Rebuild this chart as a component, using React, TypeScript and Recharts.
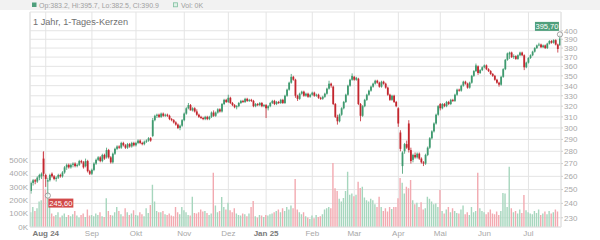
import React from 'react';
import { ComposedChart, Bar, XAxis, YAxis, CartesianGrid, ReferenceDot, Cell } from 'recharts';

// first trading day shown, and the Xetra holidays in the range
const startDate = '2024-07-23';
const holidays = ['2024-12-24', '2024-12-25', '2024-12-26', '2024-12-31', '2025-01-01', '2025-04-18', '2025-04-21', '2025-05-01'];

const monthLabels = ['Aug 24', 'Sep', 'Okt', 'Nov', 'Dez', 'Jan 25', 'Feb', 'Mar', 'Apr', 'Mai', 'Jun', 'Jul'];
const boldLabels = ['Aug 24', 'Jan 25'];

const priceTicks = [230, 240, 250, 260, 270, 280, 290, 300, 310, 320, 330, 340, 350, 360, 370, 380, 390, 400];
const volumeTicks = [0, 100000, 200000, 300000, 400000, 500000];

const opens = [
  249, 255, 257, 256, 259, 260, 274, 261, 256, 257,
  262, 260, 258, 259, 261, 260, 263, 267, 269, 267,
  269, 270, 268, 269, 272, 271, 268, 272, 264, 262,
  265, 270, 273, 275, 272, 277, 275, 281, 275, 271,
  278, 282, 284, 283, 287, 285, 283, 286, 284, 287,
  285, 287, 289, 287, 286, 288, 289, 291, 293, 307,
  311, 312, 310, 313, 311, 312, 311, 308, 307, 305,
  303, 300, 302, 307, 313, 318, 321, 316, 318, 315,
  312, 310, 309, 308, 310, 308, 310, 314, 311, 314,
  317, 315, 322, 326, 324, 328, 323, 321, 319, 320,
  323, 325, 324, 327, 325, 326, 325, 320, 322, 321,
  323, 320, 321, 318, 320, 323, 325, 322, 324, 323,
  326, 323, 330, 336, 343, 349, 346, 330, 327, 332,
  334, 330, 332, 329, 331, 333, 330, 331, 328, 327,
  329, 332, 337, 342, 339, 322, 310, 306, 312, 318,
  324, 331, 340, 346, 349, 346, 347, 322, 311, 320,
  326, 331, 335, 339, 342, 345, 343, 339, 344, 342,
  338, 331, 326, 330, 324, 318, 296, 268, 280, 286,
  304, 281, 273, 277, 275, 278, 274, 271, 270, 277,
  283, 291, 297, 304, 312, 322, 318, 322, 320, 324,
  322, 326, 325, 331, 336, 335, 340, 344, 342, 338,
  343, 350, 355, 360, 353, 356, 359, 361, 357, 355,
  352, 350, 346, 343, 341, 349, 357, 367, 373, 375,
  370, 371, 368, 372, 375, 372, 359, 364, 369, 372,
  376, 380, 383, 384, 381, 383, 380, 385, 388, 386,
  389, 384, 383.2,
];

const highs = [
  256, 258, 258, 260, 262, 263, 280, 262, 259, 262,
  263, 261, 260, 262, 262, 264, 268, 270, 270, 270,
  271, 271, 270, 273, 273, 272, 274, 273, 265, 266,
  271, 274, 276, 276, 278, 278, 283, 282, 276, 279,
  283, 285, 285, 288, 288, 286, 287, 287, 288, 288,
  288, 290, 290, 288, 289, 290, 292, 292, 309, 312,
  313, 313, 314, 314, 313, 313, 312, 309, 308, 306,
  304, 303, 308, 314, 319, 323, 322, 319, 319, 317,
  313, 311, 310, 311, 311, 311, 315, 316, 315, 318,
  318, 323, 327, 327, 331, 329, 324, 322, 321, 324,
  326, 326, 328, 328, 327, 327, 326, 323, 323, 324,
  324, 322, 322, 321, 324, 326, 326, 325, 325, 327,
  327, 331, 337, 344, 352, 350, 347, 331, 333, 335,
  335, 333, 333, 332, 334, 334, 332, 332, 329, 330,
  333, 338, 345, 343, 340, 323, 312, 313, 319, 325,
  332, 341, 347, 352.6, 350, 349, 348, 323, 321, 327,
  332, 336, 340, 343, 346, 346, 344, 345, 345, 343,
  339, 332, 331, 331, 325, 319, 298, 280, 287, 289,
  307, 283, 278, 279, 279, 279, 275, 272, 278, 284,
  292, 298, 305, 313, 321, 323, 323, 323, 325, 325,
  327, 327, 332, 337, 337, 341, 345, 345, 343, 344,
  351, 356, 363, 361, 357, 360, 362, 362, 358, 356,
  353, 351, 347, 344, 350, 358, 368, 375, 376, 376,
  373, 372, 373, 376, 376, 373, 365, 370, 373, 377,
  381, 384, 386, 385, 384, 384, 386, 389, 389, 390,
  390, 385, 395.7,
];

const lows = [
  247, 253, 254, 255, 257, 258, 260, 252, 245.6, 256,
  259, 257, 256, 258, 259, 259, 262, 265, 266, 266,
  267, 267, 267, 268, 270, 266, 267, 263, 261, 261,
  264, 269, 272, 271, 271, 273, 274, 274, 270, 270,
  277, 281, 282, 282, 284, 282, 282, 283, 283, 284,
  284, 286, 286, 285, 285, 287, 288, 288, 292, 306,
  309, 309, 309, 310, 310, 310, 307, 306, 304, 302,
  299, 298, 301, 306, 312, 317, 316, 315, 314, 311,
  309, 308, 307, 307, 307, 307, 309, 310, 310, 313,
  314, 314, 321, 323, 323, 322, 320, 318, 317, 319,
  322, 323, 323, 324, 324, 324, 319, 319, 320, 320,
  319, 319, 309, 316, 319, 322, 321, 321, 322, 322,
  322, 322, 329, 335, 342, 345, 328, 325, 326, 331,
  329, 329, 328, 328, 330, 329, 329, 327, 326, 326,
  328, 331, 336, 338, 321, 309, 303, 305, 311, 317,
  323, 330, 339, 345, 345, 345, 321, 306, 310, 319,
  325, 330, 334, 338, 341, 342, 338, 338, 341, 337,
  330, 325, 325, 323, 319, 301, 280, 262, 278, 282,
  279, 270, 271, 274, 274, 273, 270, 268, 269, 276,
  282, 290, 296, 303, 311, 316, 317, 319, 319, 321,
  321, 324, 324, 330, 334, 334, 339, 341, 337, 337,
  342, 349, 354, 351, 352, 355, 358, 356, 354, 351,
  349, 345, 342, 339, 340, 348, 356, 366, 368, 369,
  368, 367, 367, 371, 371, 356, 358, 363, 368, 371,
  375, 379, 382, 380, 380, 379, 379, 384, 385, 385,
  383, 375, 382.5,
];

const closes = [
  255, 257, 256, 259, 261, 262, 262, 258, 257, 261,
  260, 258, 259, 261, 260, 263, 267, 269, 267, 269,
  270, 268, 269, 272, 271, 267, 272, 264, 262, 265,
  270, 273, 275, 272, 277, 274, 281, 275, 271, 278,
  282, 284, 283, 287, 285, 283, 286, 284, 287, 285,
  287, 289, 287, 286, 288, 289, 291, 289, 307, 311,
  312, 310, 313, 311, 312, 311, 308, 307, 305, 303,
  300, 302, 307, 313, 318, 321, 316, 318, 315, 312,
  310, 309, 308, 310, 308, 310, 314, 311, 314, 317,
  315, 322, 326, 324, 328, 323, 321, 319, 320, 323,
  325, 324, 327, 325, 326, 325, 320, 322, 321, 323,
  320, 321, 318, 320, 323, 325, 322, 324, 323, 326,
  323, 330, 336, 343, 349, 346, 330, 327, 332, 334,
  330, 332, 329, 331, 333, 330, 331, 328, 327, 329,
  332, 337, 342, 340, 322, 310, 306, 312, 318, 324,
  331, 340, 346, 350, 346, 348, 322, 311, 320, 326,
  331, 335, 339, 342, 345, 343, 339, 344, 342, 338,
  331, 326, 330, 324, 320, 304, 282, 279, 286, 283,
  281, 272, 277, 275, 278, 274, 271, 270, 277, 283,
  291, 297, 304, 312, 320, 318, 322, 320, 324, 322,
  326, 325, 331, 336, 335, 340, 344, 342, 338, 343,
  350, 355, 361, 353, 356, 359, 361, 357, 355, 352,
  350, 346, 343, 341, 349, 357, 367, 374, 375, 370,
  371, 368, 372, 375, 372, 359, 364, 369, 372, 376,
  380, 383, 384, 381, 383, 380, 385, 388, 386, 389,
  384, 379, 390.9,
];

// in thousand shares
const volumesK = [
  110, 150, 120, 140, 190, 200, 560, 280, 250, 150,
  100, 80, 90, 110, 70, 85, 100, 75, 90, 80,
  95, 120, 85, 70, 90, 100, 75, 130, 85, 90,
  80, 100, 90, 110, 80, 75, 215, 120, 90, 85,
  110, 150, 120, 95, 80, 140, 110, 90, 100, 125,
  90, 85, 110, 95, 80, 140, 105, 165, 315, 190,
  120, 110, 110, 120, 95, 90, 100, 85, 80, 150,
  110, 95, 150, 125, 110, 90, 85, 226, 105, 100,
  110, 130, 115, 120, 105, 90, 100, 405, 160, 110,
  120, 224, 150, 130, 180, 125, 110, 140, 100, 90,
  85, 100, 95, 80, 100, 150, 194, 80, 70, 90,
  85, 75, 90, 85, 95, 100, 110, 120, 130, 110,
  140, 120, 150, 130, 160, 140, 358, 130, 110, 95,
  110, 80, 70, 60, 85, 65, 90, 75, 80, 95,
  130, 140, 150, 140, 477, 290, 268, 210, 190, 216,
  268, 413, 240, 250, 230, 240, 338, 291, 300, 220,
  200, 190, 210, 200, 170, 150, 226, 150, 120, 140,
  115, 150, 135, 150, 150, 215, 365, 330, 250, 300,
  290, 350, 200, 170, 180, 150, 185, 130, 140, 226,
  210, 190, 170, 175, 150, 276, 120, 100, 130, 150,
  110, 140, 120, 105, 100, 130, 160, 95, 110, 90,
  150, 110, 120, 405, 140, 120, 110, 95, 110, 130,
  100, 95, 115, 90, 120, 253, 250, 150, 450, 140,
  110, 120, 100, 130, 105, 239, 125, 110, 100, 95,
  120, 105, 130, 90, 100, 115, 95, 120, 100, 110,
  130, 115, 0,
];

const GREEN = '#3f9a6f';
const RED = '#c3262e';
const VOL_GREEN = '#a6d6bd';
const VOL_RED = '#f2a9b0';

// trading days: weekdays from startDate without the holidays
const tradingDays: string[] = [];
{
  const d = new Date(startDate + 'T00:00:00Z');
  while (tradingDays.length < closes.length) {
    const iso = d.toISOString().slice(0, 10);
    const wd = d.getUTCDay();
    if (wd !== 0 && wd !== 6 && !holidays.includes(iso)) tradingDays.push(iso);
    d.setUTCDate(d.getUTCDate() + 1);
  }
}

const data = tradingDays.map((date, i) => ({
  date,
  open: opens[i],
  high: highs[i],
  low: lows[i],
  close: closes[i],
  range: [lows[i], highs[i]],
  volume: volumesK[i] * 1000,
}));

// first trading day of each new month gets a tick
const monthTicks = tradingDays.filter((d, i) => i > 0 && d.slice(5, 7) !== tradingDays[i - 1].slice(5, 7));
const tickLabel: Record<string, string> = {};
monthTicks.forEach((d, i) => { tickLabel[d] = monthLabels[i]; });

const iMax = highs.indexOf(Math.max(...highs));
const iMin = lows.indexOf(Math.min(...lows));
const last = data.length - 1;

const deNum = (v: number) => v.toFixed(2).replace('.', ',');

const Candle = (props: any) => {
  const { x, y, width, height, payload } = props;
  if (!payload) return null;
  const top = Math.min(y, y + height);
  const h = Math.abs(height);
  const lh = Math.log(payload.high);
  const ll = Math.log(payload.low);
  const py = (v: number) => (lh === ll ? top : top + ((lh - Math.log(v)) / (lh - ll)) * h);
  const up = payload.close >= payload.open;
  const color = up ? GREEN : RED;
  const cx = x + width / 2;
  const yo = py(payload.open);
  const yc = py(payload.close);
  const bodyTop = Math.min(yo, yc);
  const bodyH = Math.max(Math.abs(yo - yc), 0.8);
  return (
    <g>
      <line x1={cx} x2={cx} y1={top} y2={top + h} stroke={color} strokeWidth={0.8} />
      <rect x={cx - 0.9} y={bodyTop} width={1.8} height={bodyH} fill={color} />
    </g>
  );
};

const MonthTick = ({ x, y, payload }: any) => {
  const label = tickLabel[payload.value] || '';
  const bold = boldLabels.includes(label);
  return (
    <text x={x} y={y + 9} textAnchor="middle" fontSize={8} fontWeight={bold ? 700 : 400} fill={bold ? '#7a7a7a' : '#a8a8a8'}>
      {label}
    </text>
  );
};

const MaxMarker = ({ cx, cy }: any) => (
  <g>
    <rect x={cx - 25} y={cy - 12.5} width={24} height={9} fill="#4f9f7c" />
    <text x={cx - 13} y={cy - 5.2} textAnchor="middle" fontSize={7.5} fill="#fff">{deNum(highs[iMax])}</text>
    <circle cx={cx} cy={cy} r={2.6} fill="#fff" fillOpacity={0.6} stroke="#8a8a8a" strokeWidth={0.8} />
  </g>
);

const MinMarker = ({ cx, cy }: any) => (
  <g>
    <rect x={cx + 0.5} y={cy + 3} width={25} height={9} fill="#d24a4a" />
    <text x={cx + 13} y={cy + 10.3} textAnchor="middle" fontSize={7.5} fill="#fff">{deNum(lows[iMin])}</text>
    <circle cx={cx} cy={cy} r={2.6} fill="#fff" fillOpacity={0.6} stroke="#8a8a8a" strokeWidth={0.8} />
  </g>
);

export default function App() {
  const lastRow = data[last];
  const legend = `Op:${lastRow.open.toFixed(1)}, Hi:${lastRow.high.toFixed(1)}, Lo:${lastRow.low.toFixed(1)}, Cl:${lastRow.close.toFixed(1)}`;
  return (
    <div style={{ position: 'absolute', left: 0, top: 0, width: 600, height: 240, background: '#fff', fontFamily: '"Liberation Sans", Arial, sans-serif' }}>
      <ComposedChart width={600} height={240} data={data} margin={{ top: 12, right: 0, bottom: 0, left: 0 }} barCategoryGap={0} barGap={0}>
        <CartesianGrid xAxisId="main" yAxisId="price" stroke="#e4e4e4" strokeWidth={1} />
        <XAxis xAxisId="main" dataKey="date" ticks={monthTicks} interval={0} tick={<MonthTick />} tickLine={false} tickSize={0} tickMargin={0} height={13} axisLine={{ stroke: '#e2e2e2' }} />
        <XAxis xAxisId="vol" dataKey="date" hide />
        <YAxis yAxisId="vol" orientation="left" width={30} domain={[0, 1604000]} allowDataOverflow ticks={volumeTicks} interval={0} tickFormatter={(v: number) => `${v / 1000}K`} tick={{ fontSize: 8, fill: '#a8a8a8' }} tickLine={false} tickSize={0} tickMargin={2} axisLine={{ stroke: '#e2e2e2' }} />
        <YAxis yAxisId="price" orientation="right" width={39} scale="log" domain={[223.8, 422.8]} allowDataOverflow ticks={priceTicks} interval={0} tick={{ fontSize: 8, fill: '#a8a8a8' }} tickLine={{ stroke: '#d0d0d0' }} tickSize={2} tickMargin={1} axisLine={{ stroke: '#e2e2e2' }} />
        <Bar xAxisId="vol" yAxisId="vol" dataKey="volume" barSize={1.4} isAnimationActive={false}>
          {data.map((d, i) => (
            <Cell key={i} fill={d.close >= d.open ? VOL_GREEN : VOL_RED} />
          ))}
        </Bar>
        <Bar xAxisId="main" yAxisId="price" dataKey="range" barSize={2} shape={<Candle />} isAnimationActive={false} />
        <ReferenceDot xAxisId="main" yAxisId="price" x={tradingDays[iMin]} y={lows[iMin]} r={2.6} shape={<MinMarker />} ifOverflow="visible" />
        <ReferenceDot xAxisId="main" yAxisId="price" x={tradingDays[iMax]} y={highs[iMax]} r={2.6} shape={<MaxMarker />} ifOverflow="visible" />
      </ComposedChart>
      <svg width={600} height={28} style={{ position: 'absolute', left: 0, top: 0, pointerEvents: 'none' }}>
        <rect x={0} y={0} width={600} height={10} fill="#f2f2f2" />
        <rect x={32} y={2.5} width={4.5} height={4.5} fill="#4f9f7c" />
        <text x={39} y={7.5} fontSize={7} fill="#a0a0a0">{legend}</text>
        <rect x={173.5} y={2.8} width={4} height={4} fill="#dff0e7" stroke="#7fbf9f" strokeWidth={0.8} />
        <text x={181} y={7.5} fontSize={7} fill="#a0a0a0">{`Vol: ${volumesK[last]}K`}</text>
        <text x={33} y={25} fontSize={9.2} fill="#707070">1 Jahr, 1-Tages-Kerzen</text>
      </svg>
    </div>
  );
}
